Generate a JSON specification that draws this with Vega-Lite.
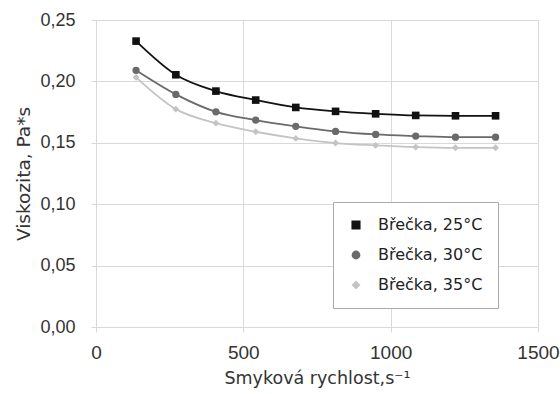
{
  "$schema": "https://vega.github.io/schema/vega-lite/v6.json",
  "width": 442,
  "height": 307,
  "autosize": {"type": "none"},
  "padding": {"left": 96, "top": 20, "right": 22, "bottom": 67},
  "background": "white",
  "data": {"values": [
    {"x": 136, "y": 0.2328, "s": "Břečka, 25°C"},
    {"x": 271, "y": 0.2054, "s": "Břečka, 25°C"},
    {"x": 407, "y": 0.1921, "s": "Břečka, 25°C"},
    {"x": 542, "y": 0.1848, "s": "Břečka, 25°C"},
    {"x": 678, "y": 0.1788, "s": "Břečka, 25°C"},
    {"x": 813, "y": 0.1756, "s": "Břečka, 25°C"},
    {"x": 949, "y": 0.1736, "s": "Břečka, 25°C"},
    {"x": 1085, "y": 0.1723, "s": "Břečka, 25°C"},
    {"x": 1220, "y": 0.1720, "s": "Břečka, 25°C"},
    {"x": 1356, "y": 0.1720, "s": "Břečka, 25°C"},
    {"x": 136, "y": 0.2090, "s": "Břečka, 30°C"},
    {"x": 271, "y": 0.1894, "s": "Břečka, 30°C"},
    {"x": 407, "y": 0.1752, "s": "Břečka, 30°C"},
    {"x": 542, "y": 0.1685, "s": "Břečka, 30°C"},
    {"x": 678, "y": 0.1634, "s": "Břečka, 30°C"},
    {"x": 813, "y": 0.1593, "s": "Břečka, 30°C"},
    {"x": 949, "y": 0.1568, "s": "Břečka, 30°C"},
    {"x": 1085, "y": 0.1555, "s": "Břečka, 30°C"},
    {"x": 1220, "y": 0.1546, "s": "Břečka, 30°C"},
    {"x": 1356, "y": 0.1546, "s": "Břečka, 30°C"},
    {"x": 136, "y": 0.2033, "s": "Břečka, 35°C"},
    {"x": 271, "y": 0.1774, "s": "Břečka, 35°C"},
    {"x": 407, "y": 0.1660, "s": "Břečka, 35°C"},
    {"x": 542, "y": 0.1590, "s": "Břečka, 35°C"},
    {"x": 678, "y": 0.1536, "s": "Břečka, 35°C"},
    {"x": 813, "y": 0.1498, "s": "Břečka, 35°C"},
    {"x": 949, "y": 0.1479, "s": "Břečka, 35°C"},
    {"x": 1085, "y": 0.1465, "s": "Břečka, 35°C"},
    {"x": 1220, "y": 0.1459, "s": "Břečka, 35°C"},
    {"x": 1356, "y": 0.1459, "s": "Břečka, 35°C"}
  ]},
  "encoding": {
    "x": {"field": "x", "type": "quantitative",
      "scale": {"domain": [0, 1500], "nice": false},
      "axis": {"title": "Smyková rychlost,s⁻¹", "values": [0, 500, 1000, 1500], "format": "d",
        "grid": true, "gridColor": "#d9d9d9", "domainColor": "#d9d9d9", "tickColor": "#d9d9d9",
        "tickSize": 5, "labelPadding": 11, "labelFont": "Liberation Sans", "labelFontSize": 19,
        "labelColor": "#333", "titleFont": "DejaVu Sans", "titleFontSize": 17.5, "titleFontWeight": "normal",
        "titleColor": "#333", "titlePadding": 7, "labelFlush": false}},
    "y": {"field": "y", "type": "quantitative",
      "scale": {"domain": [0, 0.25], "nice": false},
      "axis": {"title": "Viskozita, Pa*s", "values": [0, 0.05, 0.1, 0.15, 0.2, 0.25],
        "labelExpr": "replace(format(datum.value, '.2f'), '.', ',')",
        "grid": true, "gridColor": "#d9d9d9", "domainColor": "#d9d9d9", "tickColor": "#d9d9d9",
        "tickSize": 5, "labelPadding": 16, "labelFont": "Liberation Sans", "labelFontSize": 18,
        "labelColor": "#333", "titleFont": "DejaVu Sans", "titleFontSize": 18.5, "titleFontWeight": "normal",
        "titleColor": "#333", "titlePadding": 6}},
    "color": {"field": "s", "type": "nominal",
      "scale": {"domain": ["Břečka, 25°C", "Břečka, 30°C", "Břečka, 35°C"], "range": ["#111111", "#6a6a6a", "#c4c4c4"]},
      "legend": {"title": null, "orient": "none", "legendX": 237, "legendY": 182,
        "strokeColor": "#aaaaaa", "padding": 15, "labelFont": "DejaVu Sans", "labelFontSize": 16,
        "labelColor": "#222", "rowPadding": 14, "symbolSize": 70, "labelOffset": 14, "fillColor": "white",
        "symbolOpacity": 1}}
  },
  "layer": [
    {"mark": {"type": "line", "interpolate": "monotone", "strokeWidth": 1.8}},
    {"mark": {"type": "point", "filled": true, "opacity": 1},
      "encoding": {
        "shape": {"field": "s", "type": "nominal",
          "scale": {"domain": ["Břečka, 25°C", "Břečka, 30°C", "Břečka, 35°C"], "range": ["square", "circle", "diamond"]}},
        "size": {"field": "s", "type": "nominal", "legend": null,
          "scale": {"domain": ["Břečka, 25°C", "Břečka, 30°C", "Břečka, 35°C"], "range": [58, 48, 34]}}}}
  ]
}
